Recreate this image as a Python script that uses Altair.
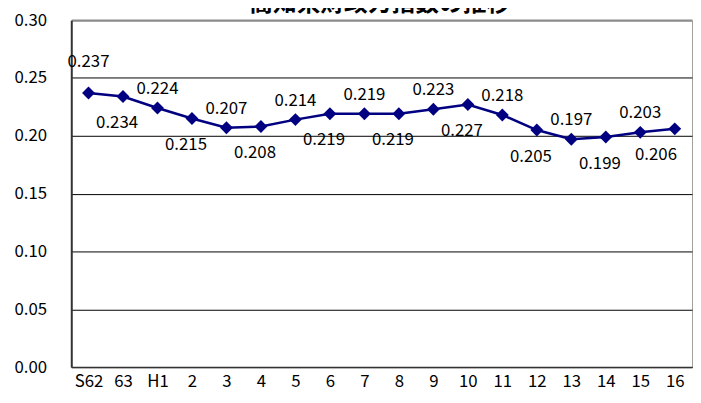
import altair as alt
import pandas as pd

title_text = "高知県財政力指数の推移"
years = ["S62", "63", "H1", "2", "3", "4", "5", "6", "7", "8", "9",
         "10", "11", "12", "13", "14", "15", "16"]
index_values = [0.237, 0.234, 0.224, 0.215, 0.207, 0.208, 0.214, 0.219, 0.219,
                0.219, 0.223, 0.227, 0.218, 0.205, 0.197, 0.199, 0.203, 0.206]
y_ticks = [0.0, 0.05, 0.10, 0.15, 0.20, 0.25, 0.30]

df = pd.DataFrame({
    "year": years,
    "value": index_values,
    "side": ["above" if i % 2 == 0 else "below" for i in range(len(years))],
})
df["label"] = df["value"].map(lambda v: f"{v:.3f}")

FONT = "Noto Sans CJK JP"
NAVY = "#000080"
FS = 17

x = alt.X(
    "year:N", sort=years,
    scale=alt.Scale(type="point", padding=0.5),
    axis=alt.Axis(title=None, labelAngle=0, ticks=False, labelPadding=7,
                  labelFontSize=FS, labelFont=FONT, labelColor="black",
                  domainColor="#333333", domainWidth=1.5),
)
y = alt.Y(
    "value:Q",
    scale=alt.Scale(domain=[0, 0.3], nice=False, zero=True),
    axis=alt.Axis(title=None, values=y_ticks, format=".2f", ticks=False,
                  labelPadding=25, labelFontSize=FS, labelFont=FONT,
                  labelColor="black", grid=True,
                  gridColor={"condition": {"test": "datum.value >= 0.3", "value": "#8c8c8c"}, "value": "#000000"},
                  gridWidth={"condition": {"test": "datum.value >= 0.3", "value": 2.5}, "value": 1},
                  domainColor="#333333", domainWidth=2),
)

base = alt.Chart(df).encode(x=x, y=y)

line = base.mark_line(color=NAVY, strokeWidth=2.5)
points = base.mark_point(shape="diamond", filled=True, size=170, color=NAVY, opacity=1)

text_props = dict(fontSize=FS, font=FONT, color="black")
labels_above = base.mark_text(dy=-19, **text_props).encode(text="label:N").transform_filter(
    "datum.side == 'above' && datum.year != 'S62'")
label_first = base.mark_text(dy=-31, **text_props).encode(text="label:N").transform_filter(
    "datum.year == 'S62'")
labels_below = base.mark_text(dy=27, dx=-6, **text_props).encode(text="label:N").transform_filter(
    "datum.side == 'below' && datum.year != '16'")
label_last = base.mark_text(dy=27, dx=-19, **text_props).encode(text="label:N").transform_filter(
    "datum.year == '16'")

title = alt.Chart(pd.DataFrame({"t": [title_text]})).mark_text(
    fontSize=24, font=FONT, fontWeight="bold", color="black", align="center", baseline="alphabetic"
).encode(x=alt.value(312), y=alt.value(-9), text="t:N")

chart = alt.layer(line, points, labels_above, label_first, labels_below, label_last, title).properties(
    width=628, height=351,
    autosize=alt.AutoSizeParams(type="none"),
    padding={"left": 64, "top": 10, "right": 1, "bottom": 30},
).configure_view(stroke="#a0a0a0", strokeWidth=1)

chart.save("out.html", embed_options={"renderer": "svg", "actions": False})
